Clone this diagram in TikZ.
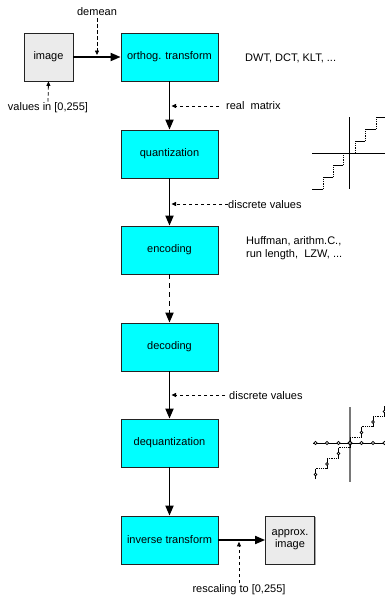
\documentclass[tikz,border=0pt]{standalone}
\usepackage{fontspec}
\setmainfont{Liberation Sans}
\usetikzlibrary{arrows.meta,shadows}
\definecolor{boxcyan}{RGB}{0,255,255}
\definecolor{boxgray}{RGB}{235,235,235}
\definecolor{edge}{RGB}{35,35,35}
\definecolor{axisgray}{RGB}{120,120,120}
\begin{document}
\begin{tikzpicture}[x=1pt,y=-1pt,font=\fontsize{11}{13}\selectfont,
  block/.style={draw=edge,line width=0.8pt,minimum height=48pt,inner sep=0pt,align=center,
    drop shadow={shadow xshift=1.3pt,shadow yshift=-1.3pt,opacity=0.35,fill=black}},
  stage/.style={block,fill=boxcyan,minimum width=97pt},
  picbox/.style={block,fill=boxgray,minimum width=49pt},
  flow/.style={line width=1.8pt,-{Triangle[length=10pt,width=8pt]}},
  hint/.style={line width=0.8pt,dash pattern=on 3.5pt off 2.5pt,-{Triangle[length=4.5pt,width=4pt]}},
  lbl/.style={inner sep=0pt},
  stair/.style={line width=1pt},
  riser/.style={line width=0.8pt,dash pattern=on 1pt off 0.8pt},
  knot/.style={draw=black,fill=white,line width=0.6pt}]
\useasboundingbox (0,0) rectangle (385,597);

% pipeline blocks
\node[picbox] (img)  at (48.5,57)   {image};
\node[stage]  (ot)   at (169.5,57)  {orthog. transform};
\node[stage]  (qu)   at (169.5,154) {quantization};
\node[stage]  (enc)  at (169.5,250) {encoding};
\node[stage]  (dec)  at (169.5,347) {decoding};
\node[stage]  (deq)  at (169.5,443) {dequantization};
\node[stage]  (inv)  at (169.5,540) {inverse transform};
\node[picbox] (appr) at (290,540)   {approx.\\[-1pt]image};

% main flow
\draw[flow] (img) -- (ot);
\draw[flow] (ot) -- (qu);
\draw[flow] (qu) -- (enc);
\draw[flow,dash pattern=on 5pt off 4pt] (enc) -- (dec);
\draw[flow] (dec) -- (deq);
\draw[flow] (deq) -- (inv);
\draw[flow] (inv) -- (appr);

% annotations
\node[lbl] (demean) at (97,12) {demean};
\coordinate (demeanTip) at (97,55);
\draw[hint] ([yshift=-2pt]demean.south) -- (demeanTip);

\node[lbl] (vals) at (48,108) {values in [0,255]};
\draw[hint] ([yshift=1pt]vals.north) -- (img.south);

\node[lbl,anchor=west] (dct) at (245,58) {DWT, DCT, KLT, ...};

\node[lbl,anchor=west] (rm) at (226,106) {real\ \ matrix};
\coordinate (rmStart) at (219,106);
\coordinate (rmTip) at (171.5,106);
\draw[hint] (rmStart) -- (rmTip);

\node[lbl,anchor=west] (dv1) at (228,204.5) {discrete values};
\coordinate (dv1Tip) at (171.5,204);
\draw[hint] (dv1.west |- dv1Tip) -- (dv1Tip);

\node[lbl,anchor=west,align=left] (codes) at (246,248.5) {Huffman, arithm.C.,\\run length,\ \ LZW, ...};

\node[lbl,anchor=west] (dv2) at (229,395.5) {discrete values};
\coordinate (dv2Start) at (225,395);
\coordinate (dv2Tip) at (171.5,395);
\draw[hint] (dv2Start) -- (dv2Tip);

\node[lbl] (resc) at (239,590) {rescaling to [0,255]};
\coordinate (rescStart) at (239,583);
\coordinate (rescTip) at (239,541.8);
\draw[hint] (rescStart) -- (rescTip);

% quantizer characteristic
\draw[line width=0.8pt] (349,117) -- (349,189);
\draw[line width=0.8pt] (312,153) -- (385,153);
\draw[stair] (312,189) -- (323,189)
             (323,177) -- (333,177)
             (333,165) -- (343,165)
             (343,153) -- (355,153)
             (355,141) -- (365,141)
             (365,129) -- (376,129)
             (376,117) -- (385,117);
\draw[riser] (323,189) -- (323,177)
             (333,177) -- (333,165)
             (343,165) -- (343,153)
             (355,153) -- (355,141)
             (365,141) -- (365,129)
             (376,129) -- (376,117);

% dequantizer characteristic
\draw[axisgray,line width=1.4pt] (350,407) -- (350,482);
\draw[line width=0.8pt] (313,443) -- (385,443);
\foreach \i in {-3,...,2}{
  \draw[riser] ({350+11.5*\i},{443-10.5*\i-6}) -- ({350+11.5*(\i+1)},{443-10.5*\i-6});
}
\foreach \i in {-3,...,3}{
  \draw[line width=0.9pt] ({350+11.5*\i},{443-10.5*\i+4.5}) -- ({350+11.5*\i},{443-10.5*\i-6});
}
\foreach \i in {-3,...,3}{
  \draw[knot] ({350+11.5*\i},443) circle (1.6);
  \draw[knot] ({350+11.5*\i},{443-10.5*\i}) circle (1.4);
}
\draw[knot,line width=1.2pt] (350,443) circle (1.9);
\end{tikzpicture}
\end{document}
